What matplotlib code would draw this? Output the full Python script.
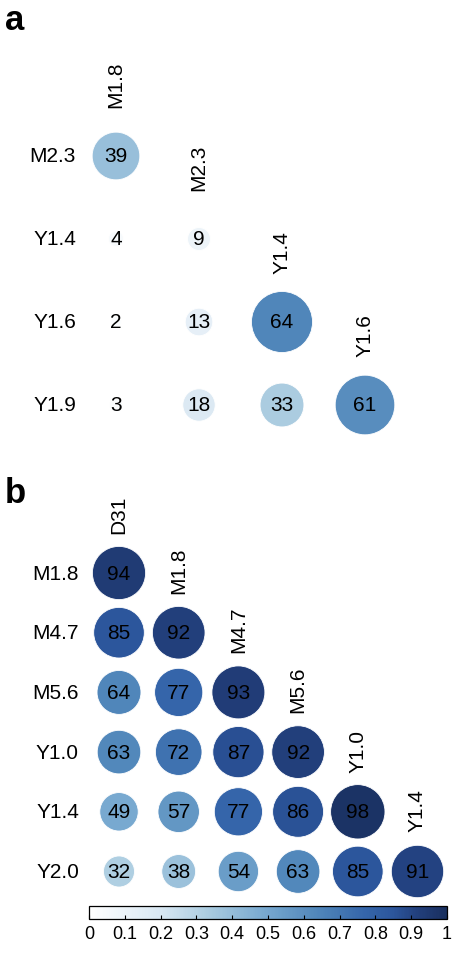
import numpy as np
import matplotlib
matplotlib.use("Agg")
import matplotlib.pyplot as plt
from matplotlib.patches import Circle
from matplotlib.colors import LinearSegmentedColormap
from matplotlib.colorbar import ColorbarBase
from matplotlib.colors import Normalize

plt.rcParams['font.family'] = ['Liberation Sans', 'DejaVu Sans']

# --- data ---
a_rows = ['M2.3', 'Y1.4', 'Y1.6', 'Y1.9']
a_cols = ['M1.8', 'M2.3', 'Y1.4', 'Y1.6']
a_vals = [[39],
          [4, 9],
          [2, 13, 64],
          [3, 18, 33, 61]]

b_rows = ['M1.8', 'M4.7', 'M5.6', 'Y1.0', 'Y1.4', 'Y2.0']
b_cols = ['D31', 'M1.8', 'M4.7', 'M5.6', 'Y1.0', 'Y1.4']
b_vals = [[94],
          [85, 92],
          [64, 77, 93],
          [63, 72, 87, 92],
          [49, 57, 77, 86, 98],
          [32, 38, 54, 63, 85, 91]]

cbar_ticks = [0, 0.1, 0.2, 0.3, 0.4, 0.5, 0.6, 0.7, 0.8, 0.9, 1]

# muted Blues, as in the figure
cmap = LinearSegmentedColormap.from_list('blues_muted', [
    (0.0, '#ffffff'), (0.2, '#d8e7f2'), (0.33, '#abcce0'), (0.49, '#78a9d0'),
    (0.64, '#5086ba'), (0.77, '#3566aa'), (0.85, '#2c569c'),
    (0.92, '#223f7c'), (1.0, '#192f5e')])

W, H = 454, 954
FS = 15
fig = plt.figure(figsize=(W / 100, H / 100), dpi=100)


def draw_panel(rows, cols, vals, x0, y0, step):
    # x0, y0: pixel centre of first cell, step: pixel spacing
    n = len(cols)
    left = x0 - step / 2
    top = y0 - step / 2
    ax = fig.add_axes([left / W, 1 - (top + n * step) / H, n * step / W, n * step / H])
    ax.set_xlim(-0.5, n - 0.5)
    ax.set_ylim(n - 0.5, -0.5)
    ax.axis('off')
    for i, row in enumerate(vals):
        for j, v in enumerate(row):
            r = 0.46 * np.sqrt(v / 100)
            ax.add_patch(Circle((j, i), r, facecolor=cmap(v / 100),
                                edgecolor='white', linewidth=0.6))
            ax.text(j, i, str(v), ha='center', va='center', fontsize=FS)
    for i, lab in enumerate(rows):
        ax.text(-40 / step, i, lab, ha='right', va='center', fontsize=FS, clip_on=False)
    return ax


ax_a = draw_panel(a_rows, a_cols, a_vals, 116, 157, 83)
for j, lab in enumerate(a_cols):
    ax_a.text(j, j - 49 / 83, lab, rotation=90, ha='center', va='bottom', fontsize=FS, clip_on=False)

ax_b = draw_panel(b_rows, b_cols, b_vals, 119, 574, 59.7)
for j, lab in enumerate(b_cols):
    ax_b.text(j, j - 40 / 59.7, lab, rotation=90, ha='center', va='bottom', fontsize=FS, clip_on=False)

# colorbar
cax = fig.add_axes([89 / W, 1 - 920 / H, 358 / W, 13 / H])
cb = ColorbarBase(cax, cmap=cmap, norm=Normalize(0, 1), orientation='horizontal', ticks=cbar_ticks)
cb.ax.set_xticklabels(['0' if t == 0 else '1' if t == 1 else str(t) for t in cbar_ticks])
cb.ax.tick_params(direction='in', length=3, width=0.8, labelsize=13, pad=4)
cb.outline.set_linewidth(0.9)

fig.text(5 / W, 1 - 30 / H, 'a', fontsize=25, fontweight='bold', va='baseline')
fig.text(5 / W, 1 - 503 / H, 'b', fontsize=25, fontweight='bold', va='baseline')

fig.savefig('out.png', dpi=100)
